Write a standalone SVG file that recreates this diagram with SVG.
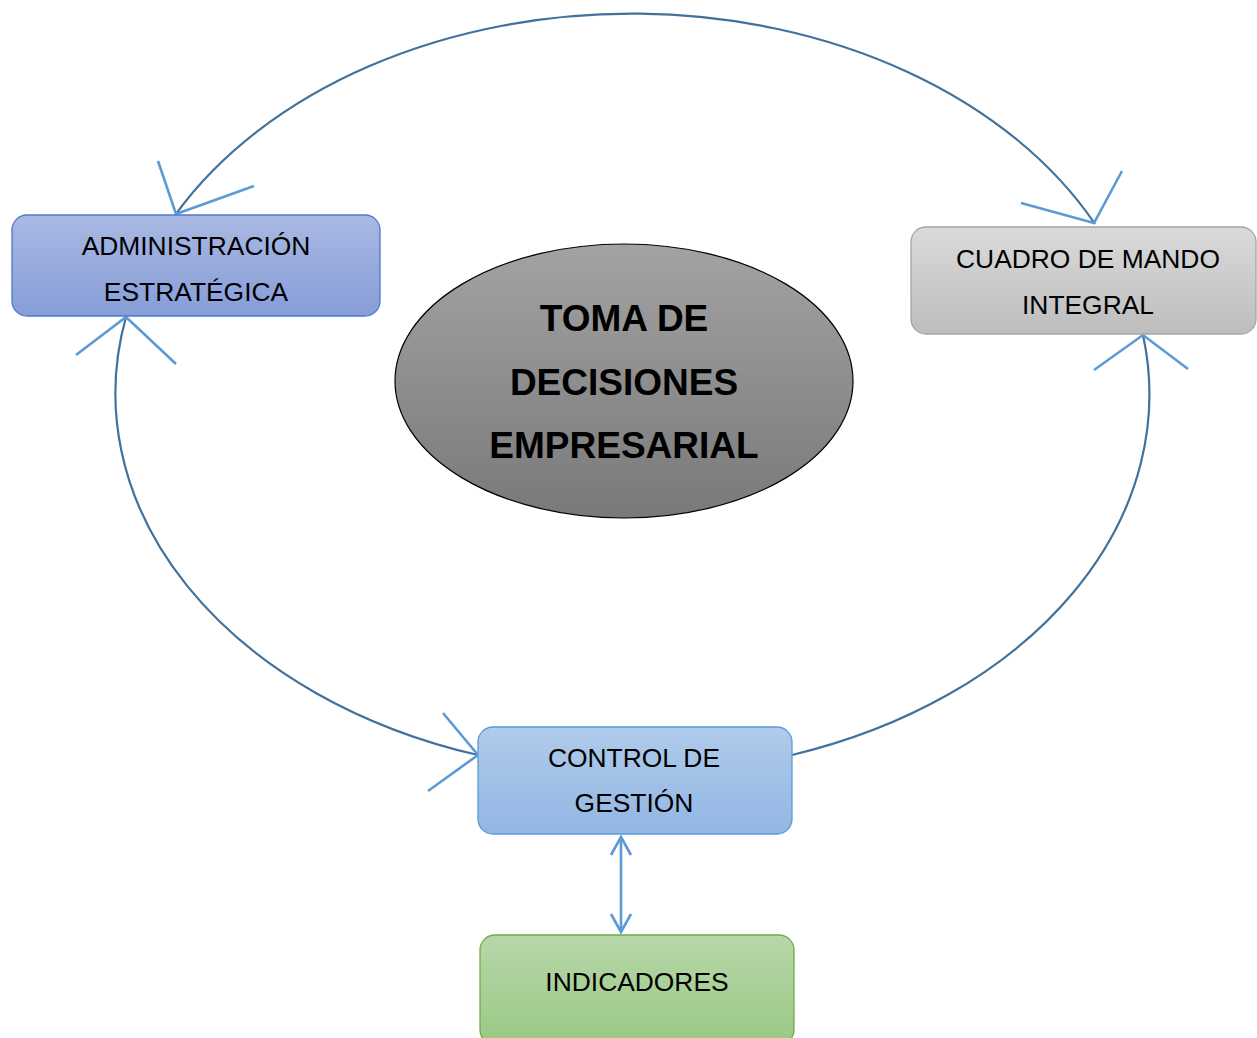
<svg xmlns="http://www.w3.org/2000/svg" width="1257" height="1038" viewBox="0 0 1257 1038">
  <defs>
    <linearGradient id="gBlue" x1="0" y1="0" x2="0" y2="1">
      <stop offset="0" stop-color="#aab9e3"/>
      <stop offset="1" stop-color="#869dd8"/>
    </linearGradient>
    <linearGradient id="gGray" x1="0" y1="0" x2="0" y2="1">
      <stop offset="0" stop-color="#dadada"/>
      <stop offset="1" stop-color="#bdbdbd"/>
    </linearGradient>
    <linearGradient id="gSky" x1="0" y1="0" x2="0" y2="1">
      <stop offset="0" stop-color="#b0cbeb"/>
      <stop offset="1" stop-color="#92b6e3"/>
    </linearGradient>
    <linearGradient id="gGreen" x1="0" y1="0" x2="0" y2="1">
      <stop offset="0" stop-color="#b7d7a9"/>
      <stop offset="1" stop-color="#9bc885"/>
    </linearGradient>
    <linearGradient id="gCore" x1="0" y1="0" x2="0" y2="1">
      <stop offset="0" stop-color="#a3a3a3"/>
      <stop offset="1" stop-color="#797979"/>
    </linearGradient>
  </defs>
  <style>
    .label { font-family: "Liberation Sans", Arial, sans-serif; font-size: 26.4px; fill: #000; text-anchor: middle; }
    .title { font-family: "Liberation Sans", Arial, sans-serif; font-size: 37px; font-weight: bold; fill: #000; text-anchor: middle; }
    .ring { fill: none; stroke: #41719c; stroke-width: 2.2; }
    .head { fill: none; stroke: #5b9bd5; stroke-width: 2.6; stroke-linejoin: miter; }
  </style>

  <!-- connectors: one large elliptical loop split into three arcs, plus the vertical link -->
  <g id="connectors">
    <path class="ring" d="M 176 214 A 517 379 0 0 1 1095 224"/>
    <path class="ring" d="M 126 317 A 517 379 0 0 0 478 755"/>
    <path class="ring" d="M 792 755 A 517 379 0 0 0 1143 335"/>
    <line x1="621" y1="837" x2="621" y2="932" stroke="#5b9bd5" stroke-width="2.6"/>
    <polyline class="head" points="158,161 176,214 254,186"/>
    <polyline class="head" points="1021,203 1094,223 1122,171"/>
    <polyline class="head" points="76,355 126,317 176,364"/>
    <polyline class="head" points="1094,370 1143,335 1188,369"/>
    <polyline class="head" points="443,713 478,755 428,791"/>
    <polyline class="head" points="611,855 621,837 631,855"/>
    <polyline class="head" points="611,914 621,932 631,914"/>
  </g>

  <g id="node-admin">
    <rect x="12" y="215" width="368" height="101" rx="15" fill="url(#gBlue)" stroke="#4f78c8" stroke-width="1.3"/>
    <text class="label" x="196" y="255">ADMINISTRACIÓN</text>
    <text class="label" x="196" y="301">ESTRATÉGICA</text>
  </g>

  <g id="node-cmi">
    <rect x="911" y="227" width="345" height="107" rx="15" fill="url(#gGray)" stroke="#a5a5a5" stroke-width="1.3"/>
    <text class="label" x="1088" y="268">CUADRO DE MANDO</text>
    <text class="label" x="1088" y="314">INTEGRAL</text>
  </g>

  <g id="node-core">
    <ellipse cx="624" cy="381" rx="229" ry="137" fill="url(#gCore)" stroke="#000" stroke-width="1.2"/>
    <text class="title" x="624" y="331">TOMA DE</text>
    <text class="title" x="624" y="395">DECISIONES</text>
    <text class="title" x="624" y="458">EMPRESARIAL</text>
  </g>

  <g id="node-control">
    <rect x="478" y="727" width="314" height="107" rx="15" fill="url(#gSky)" stroke="#5b9bd5" stroke-width="1.3"/>
    <text class="label" x="634" y="767">CONTROL DE</text>
    <text class="label" x="634" y="812">GESTIÓN</text>
  </g>

  <g id="node-indicadores">
    <rect x="480" y="935" width="314" height="110" rx="15" fill="url(#gGreen)" stroke="#70ad47" stroke-width="1.3"/>
    <text class="label" x="637" y="991">INDICADORES</text>
  </g>
</svg>
